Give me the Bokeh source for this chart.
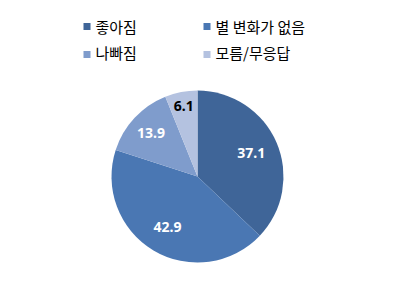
import math
from bokeh.plotting import figure
from bokeh.models import Range1d, ColumnDataSource
from bokeh.core.properties import value
from bokeh.embed import file_html
from bokeh.resources import INLINE

categories = ["좋아짐", "별 변화가 없음", "나빠짐", "모름/무응답"]
values = [37.1, 42.9, 13.9, 6.1]
colors = ["#3F6598", "#4A77B3", "#7F9CCC", "#B4C2E0"]
label_colors = ["white", "white", "white", "black"]

W, H = 396, 291
p = figure(width=W, height=H, output_backend="svg", toolbar_location=None,
           x_range=Range1d(0, W), y_range=Range1d(0, H), min_border=0)
p.axis.visible = False
p.grid.visible = False
p.outline_line_color = None
p.background_fill_color = "white"

cx, cy, R = 197, H - 176, 86
total = sum(values)
starts, ends, lx, ly = [], [], [], []
acc = 0.0
fr = [0.68, 0.68, 0.74, 0.84]
for i, v in enumerate(values):
    a0 = math.pi / 2 - 2 * math.pi * acc / total
    a1 = math.pi / 2 - 2 * math.pi * (acc + v) / total
    starts.append(a0)
    ends.append(a1)
    mid = (a0 + a1) / 2
    lx.append(cx + fr[i] * R * math.cos(mid))
    ly.append(cy + fr[i] * R * math.sin(mid))
    acc += v

src = ColumnDataSource(dict(start=starts, end=ends, color=colors,
                            lx=lx, ly=ly, lab=[f"{v:.1f}" for v in values],
                            lc=label_colors))
p.wedge(x=cx, y=cy, radius=R, start_angle="start", end_angle="end",
        direction="clock", fill_color="color", line_color=None, source=src)
p.text(x="lx", y="ly", text="lab", text_color="lc", source=src,
       text_font=value("Noto Sans"), text_font_style="bold",
       text_font_size="14px", text_align="center", text_baseline="middle")

# legend
leg_x = [83, 203, 83, 203]
sq_y = [H - 26, H - 26, H - 54, H - 54]
tx_y = [H - 26, H - 26, H - 52, H - 52]
p.rect(x=[x + 3.5 for x in leg_x], y=sq_y, width=7, height=7,
       fill_color=colors, line_color=None)
p.text(x=[x + 12 for x in leg_x], y=tx_y, text=categories,
       text_font=value("Noto Sans CJK KR"), text_font_size="15px",
       text_color="black", text_baseline="middle", text_align="left")

open("out.html", "w").write(file_html(p, INLINE))
